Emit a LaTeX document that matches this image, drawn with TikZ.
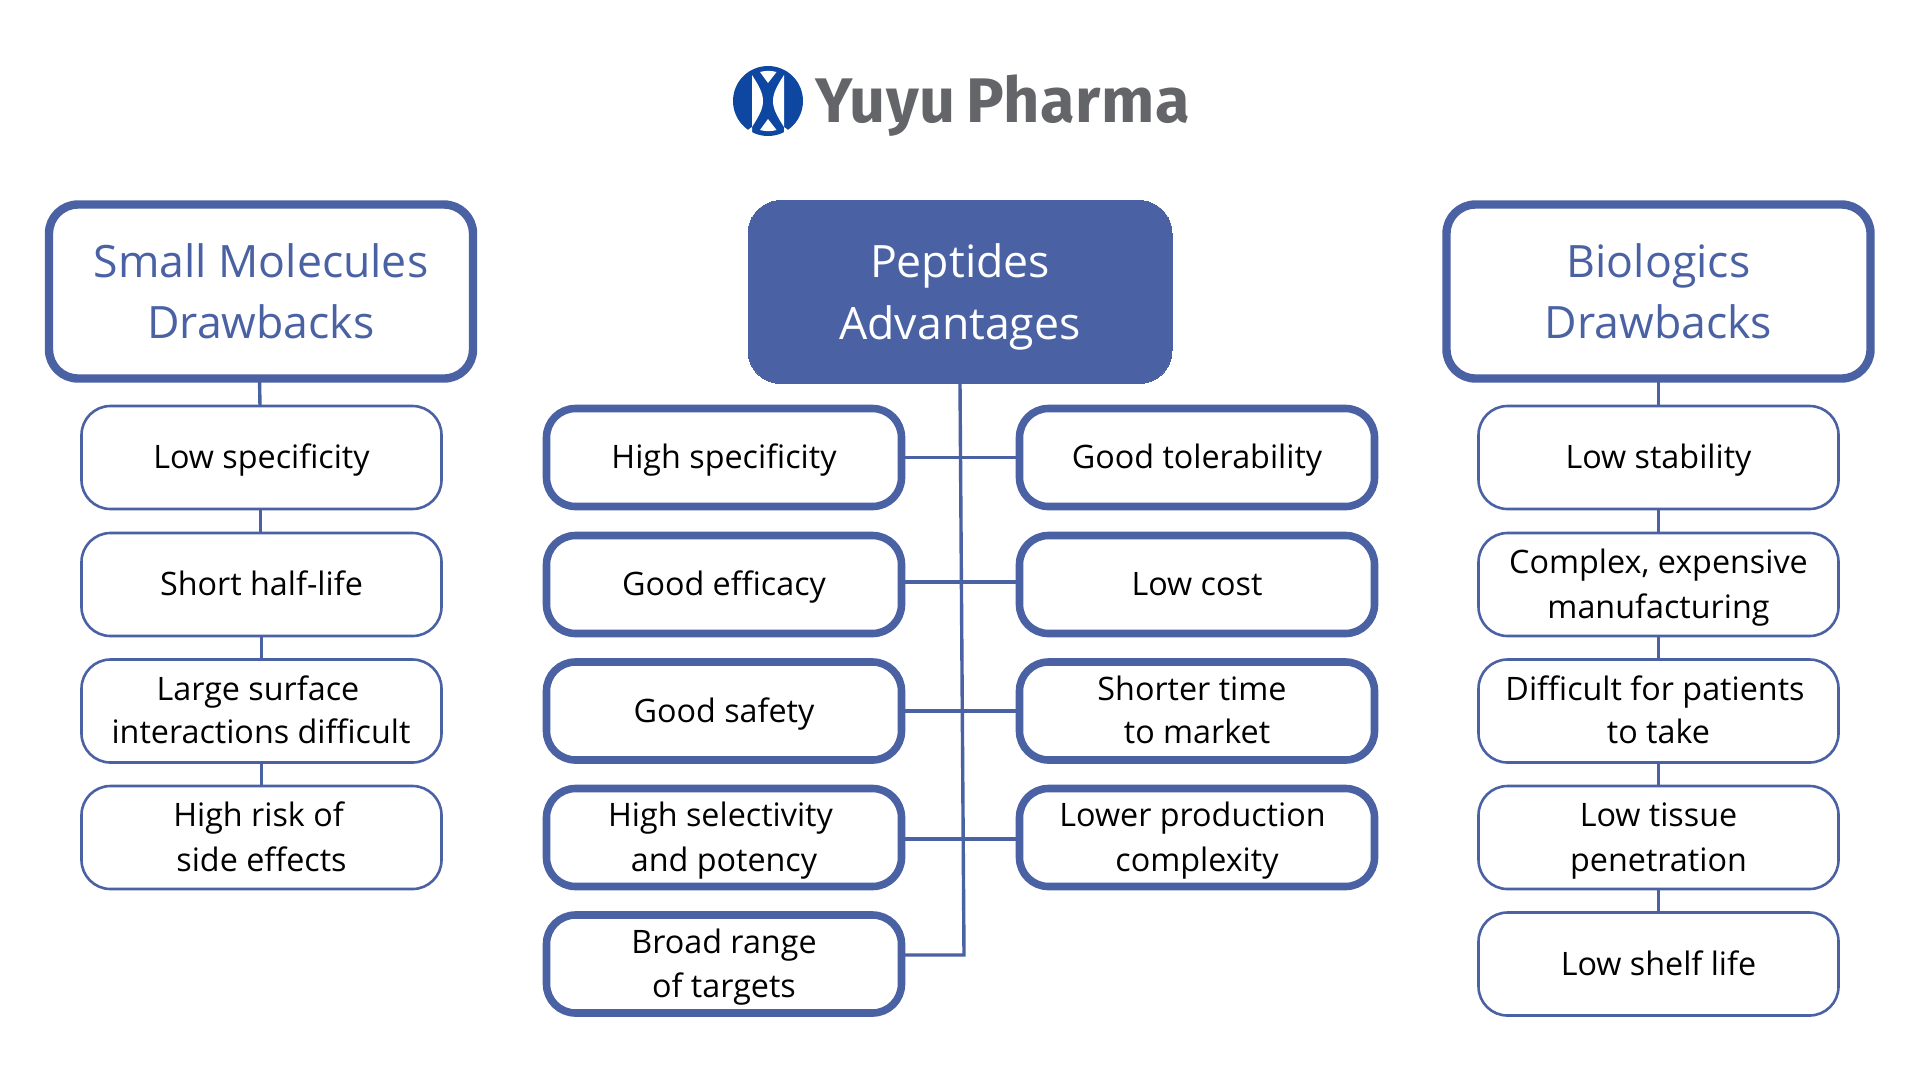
\documentclass[tikz,border=0pt]{standalone}
\usepackage{fontspec}
\setmainfont{Open Sans}
\newfontfamily\logofont[LetterSpace=1.0]{Fira Sans}
\definecolor{pepblue}{HTML}{4A62A4}
\definecolor{logoblue}{HTML}{0D47A1}
\definecolor{logogray}{HTML}{636569}
\newcommand{\st}{\vphantom{Hg}\rule{0pt}{0.94em}}
\newcommand{\stt}{\vphantom{Hg}\rule{0pt}{0.985em}}
\newcommand{\pad}[1]{\rule{#1pt}{0pt}}
\tikzset{
  boxbase/.style={rounded corners=29pt,inner sep=0pt,outer sep=0pt,align=center,draw=pepblue,fill=white},
  titlebox/.style={boxbase,line width=8.4pt,minimum width=424pt,minimum height=174pt,text=pepblue,font=\fontsize{44.6}{61.5}\selectfont},
  peptitle/.style={boxbase,fill=pepblue,rounded corners=33pt,line width=0pt,minimum width=424pt,minimum height=183pt,text=white,font=\fontsize{44.6}{61.5}\selectfont},
  thinbox/.style={boxbase,line width=2.6pt,minimum width=360pt,minimum height=103pt,font=\fontsize{32.3}{44}\selectfont},
  thickbox/.style={boxbase,line width=7.6pt,minimum width=355pt,minimum height=98pt,font=\fontsize{32.3}{44}\selectfont},
  link/.style={draw=pepblue,line width=3.4pt},
}
\begin{document}
\begin{tikzpicture}[x=1pt,y=-1pt]
\useasboundingbox[fill=white] (0,0) rectangle (1920,1080);
% logo
\coordinate (logoc) at (768,101);
\begin{scope}[shift={(logoc)}]
\fill[logoblue] (0,0) circle[radius=35];
\fill[white] (-16,-26) .. controls (-9,-15) and (-5,-8) .. (-5,0) .. controls (-5,8) and (-9,15) .. (-16,26) arc[start angle=238,end angle=122,radius=30] -- cycle;
\fill[white] (16,-26) .. controls (9,-15) and (5,-8) .. (5,0) .. controls (5,8) and (9,15) .. (16,26) arc[start angle=-58,end angle=58,radius=30] -- cycle;
\fill[white] (-8,-29) arc[start angle=254,end angle=286,radius=30] -- (0,-18) -- cycle;
\fill[white] (-8,29) arc[start angle=106,end angle=74,radius=30] -- (0,18) -- cycle;
\end{scope}
\node[anchor=base west,inner sep=0pt,text=logogray,font=\logofont\bfseries\fontsize{63}{63}\selectfont] (logotext) at (815,122) {Yuyu\hspace{0.17em}Pharma};
% title boxes
\node[titlebox] (smt) at (261,291.5) {\stt Small Molecules\\\stt Drawbacks};
\node[peptitle] (pep) at (960,292) {\stt Peptides\\\stt Advantages};
\node[titlebox] (bit) at (1658.5,291.5) {\stt Biologics\\\stt Drawbacks};
% left column
\node[thinbox] (s1) at (261.5,457.5) {\st Low specificity};
\node[thinbox] (s2) at (261.5,584.5) {\st Short half-life};
\node[thinbox] (s3) at (261.5,711) {\st Large surface\pad{7}\\[-1pt]\st interactions difficult\pad{1}};
\node[thinbox] (s4) at (261.5,837.5) {\st High risk of\pad{6}\\[1pt]\st side effects};
% centre
\node[thickbox] (a1) at (724,457.5) {\st High specificity};
\node[thickbox] (a2) at (724,584.5) {\st Good efficacy};
\node[thickbox] (a3) at (724,711) {\st Good safety};
\node[thickbox] (a4) at (724,837.5) {\st High selectivity\pad{7}\\[1pt]\st and potency};
\node[thickbox] (a5) at (724,964) {\st Broad range\\\st of targets};
\node[thickbox] (c1) at (1197,457.5) {\st Good tolerability};
\node[thickbox] (c2) at (1197,584.5) {\st Low cost};
\node[thickbox] (c3) at (1197,711) {\st Shorter time\pad{10}\\[-1pt]\st to market};
\node[thickbox] (c4) at (1197,837.5) {\st Lower production\pad{9}\\[1pt]\st complexity};
% right
\node[thinbox] (b1) at (1658.5,457.5) {\st Low stability};
\node[thinbox] (b2) at (1658.5,584.5) {\st Complex, expensive\\[1pt]\st manufacturing};
\node[thinbox] (b3) at (1658.5,711) {\st Difficult for patients\pad{7}\\[-1pt]\st to take};
\node[thinbox] (b4) at (1658.5,837.5) {\st Low tissue\\[1pt]\st penetration};
\node[thinbox] (b5) at (1658.5,964) {\st Low shelf life};
% connectors
\draw[link] ([xshift=-1.5pt]smt.south) -- ([xshift=-1.5pt]s1.north);
\draw[link] ([xshift=-1pt]s1.south) -- ([xshift=-1pt]s2.north);
\draw[link] (s2.south) -- (s3.north);
\draw[link] (s3.south) -- (s4.north);
\draw[link] (bit.south) -- (b1.north);
\draw[link] (b1.south) -- (b2.north);
\draw[link] (b2.south) -- (b3.north);
\draw[link] (b3.south) -- (b4.north);
\draw[link] (b4.south) -- (b5.north);
\coordinate (corner) at (964,955);
\draw[link] (pep.south) -- (corner) -- (corner -| a5.east);
\draw[link] (a1.east) -- (c1.west);
\draw[link] ([yshift=2.5pt]a2.east) -- ([yshift=2.5pt]c2.west);
\draw[link] (a3.east) -- (c3.west);
\draw[link] ([yshift=-1.5pt]a4.east) -- ([yshift=-1.5pt]c4.west);
\end{tikzpicture}
\end{document}
